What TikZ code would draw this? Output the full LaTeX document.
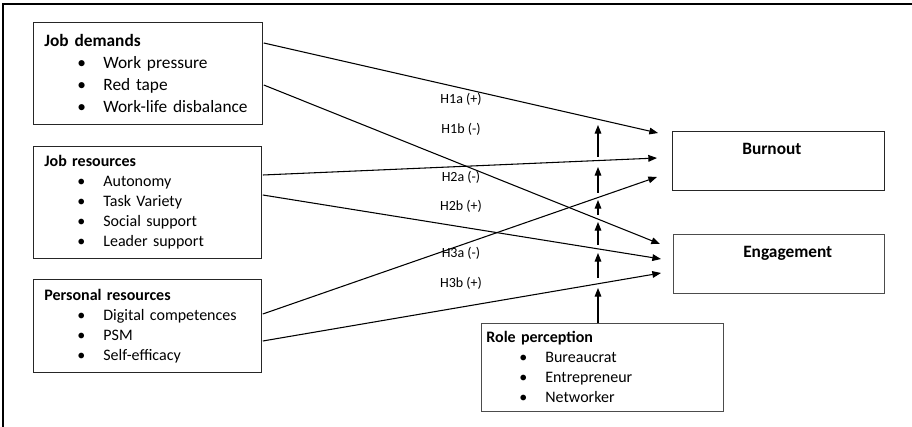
\documentclass[tikz,border=0pt]{standalone}
\usepackage{fontspec}
\setmainfont{Carlito}
\usetikzlibrary{arrows.meta,calc}
\newcommand{\blt}[1]{\\\hspace*{24.75pt}\makebox[19.5pt][l]{\textbullet}#1}

\begin{document}
\begin{tikzpicture}[
            x=0.75pt,
            y=-0.75pt,
            box/.style={
                draw=black!85,
                line width=0.6pt,
                anchor=north west,
                align=left,
                inner xsep=8.25pt,
                inner ysep=0pt,
                font=\fontsize{12}{15}\selectfont
            },
            outbox/.style={
                draw=black!85,
                line width=0.6pt,
                anchor=north west,
                minimum height=44.5pt
            },
            arr/.style={
                -{Triangle[length=6.5pt,width=5pt]},
                line width=0.8pt
            },
            hyp/.style={
                font=\fontsize{10.5}{12}\selectfont,
                inner sep=0pt
            }
        ]
            \useasboundingbox (0,0) rectangle (912,427);
            \draw[line width=1pt] (3,427) -- (3,4) -- (912,4);

            % left boxes
            \node[box, minimum width=171.75pt, minimum height=76.5pt, text width=155.25pt,
                font=\fontsize{13}{16.5}\selectfont] (demands) at (33,22)
                {\textbf{Job demands}\blt{Work pressure}\blt{Red tape}\blt{Work-life disbalance}};
            \node[box, minimum width=171pt, minimum height=84pt, text width=154.5pt] (jobres) at (33,146)
                {\textbf{Job resources}\blt{Autonomy}\blt{Task Variety}\blt{Social support}\blt{Leader support}};
            \node[box, minimum width=171pt, minimum height=69.75pt, text width=154.5pt] (persres) at (33,279)
                {\textbf{Personal resources}\blt{Digital competences}\blt{PSM}\blt{Self-efficacy}};
            \node[box, minimum width=181.5pt, minimum height=66pt, text width=174pt, inner xsep=3.75pt,
                draw=black!70] (role) at (481,323)
                {\textbf{Role perception}\blt{Bureaucrat}\blt{Entrepreneur}\blt{Networker}};

            % outcomes
            \node[outbox, minimum width=159pt] (burnout) at (672,131) {};
            \node[anchor=west, inner sep=0pt, font=\fontsize{13}{15}\bfseries] (burnouttxt) at (742,149) {Burnout};
            \node[outbox, minimum width=158.25pt, draw=black!70] (engage) at (673,234) {};
            \node[anchor=west, inner sep=0pt, font=\fontsize{13}{15}\bfseries] (engagetxt) at (743,253) {Engagement};

            \coordinate (b1) at (658,133);
            \coordinate (b2) at (657,158);
            \coordinate (b3) at (657,177);
            \coordinate (e1) at (660,244);
            \coordinate (e2) at (661,259);
            \coordinate (e3) at (661,273);

            \draw[arr] ($(demands.north east)+(1,21)$) -- (b1);
            \draw[arr] ($(demands.north east)+(1,63)$) -- (e1);
            \draw[arr] ($(jobres.north east)+(1,29)$) -- (b2);
            \draw[arr] ($(jobres.north east)+(1,49)$) -- (e2);
            \draw[arr] ($(persres.north east)+(1,35)$) -- (b3);
            \draw[arr] ($(persres.north east)+(1,62)$) -- (e3);

            % moderation
            \coordinate (m0) at (598,288);
            \draw[arr] (role.north -| m0) -- (m0);
            \foreach \i/\a/\b in {1/278/253, 2/245/222, 3/215/200, 4/193/167, 5/157/125} {
                \coordinate (ms\i) at (598,\a);
                \coordinate (mt\i) at (598,\b);
                \draw[arr] (ms\i) -- (mt\i);
            }

            \node[hyp] (h1a) at (461,99) {H1a (+)};
            \node[hyp] (h1b) at (461,129) {H1b (-)};
            \node[hyp] (h2a) at (461,177) {H2a (-)};
            \node[hyp] (h2b) at (461,206) {H2b (+)};
            \node[hyp] (h3a) at (461,253) {H3a (-)};
            \node[hyp] (h3b) at (461,283) {H3b (+)};
        \end{tikzpicture}
\end{document}
